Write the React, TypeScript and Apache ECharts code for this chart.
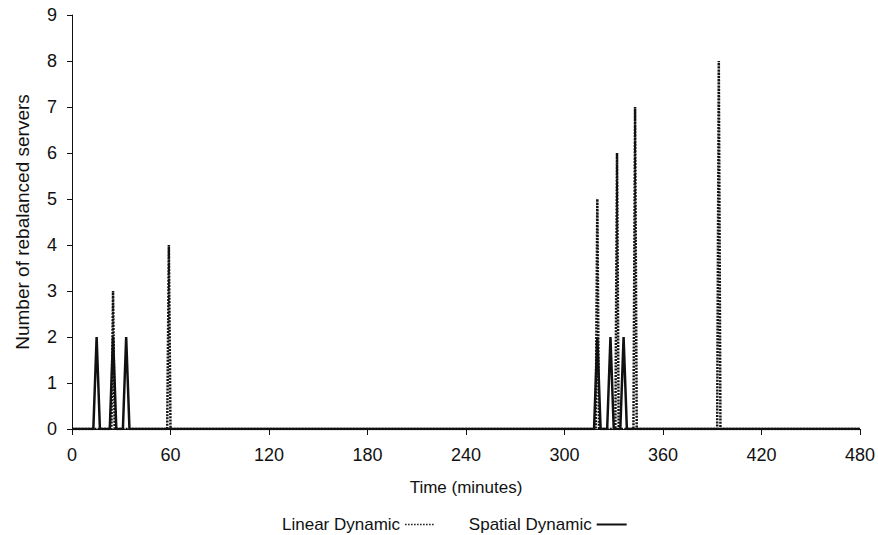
import React, { useEffect, useRef } from "react";
import * as echarts from "echarts";

// Spike events (time in minutes, number of rebalanced servers)
const linearTimes = [25, 59, 320, 332, 343, 394];
const linearValues = [3, 4, 5, 6, 7, 8];
const spatialTimes = [15, 25, 33, 320, 328, 336];
const spatialValues = [2, 2, 2, 2, 2, 2];
const xTicks = [0, 60, 120, 180, 240, 300, 360, 420, 480];
const yTicks = [0, 1, 2, 3, 4, 5, 6, 7, 8, 9];

function buildSeries(times: number[], values: number[], half: number) {
  const pts: number[][] = [[xTicks[0], 0]];
  times.forEach((t, i) => {
    pts.push([t - half, 0]);
    pts.push([t, values[i]]);
    pts.push([t + half, 0]);
  });
  pts.push([xTicks[xTicks.length - 1], 0]);
  return pts;
}

export default function App() {
  const ref = useRef<HTMLDivElement>(null);
  useEffect(() => {
    if (!ref.current) return;
    const chart = echarts.init(ref.current, null, { renderer: "svg" });
    const font = "Liberation Sans, Arial, sans-serif";
    chart.setOption({
      animation: false,
      backgroundColor: "#fff",
      grid: { left: 72, right: 12, top: 15, bottom: 106 },
      xAxis: {
        type: "value",
        min: xTicks[0],
        max: xTicks[xTicks.length - 1],
        interval: 60,
        name: "Time (minutes)",
        nameLocation: "middle",
        nameGap: 50,
        nameTextStyle: { fontFamily: font, fontSize: 17, color: "#111" },
        axisLine: { lineStyle: { color: "#111", width: 1 } },
        axisTick: { show: true, length: 6, lineStyle: { color: "#111" } },
        axisLabel: { fontFamily: font, fontSize: 18, color: "#111", margin: 17 },
        splitLine: { show: false },
      },
      yAxis: {
        type: "value",
        min: yTicks[0],
        max: yTicks[yTicks.length - 1],
        interval: 1,
        name: "Number of rebalanced servers",
        nameLocation: "middle",
        nameGap: 40,
        nameTextStyle: { fontFamily: font, fontSize: 19, color: "#111" },
        axisLine: { show: true, lineStyle: { color: "#111", width: 1 } },
        axisTick: { show: true, length: 5, lineStyle: { color: "#111" } },
        axisLabel: { fontFamily: font, fontSize: 18, color: "#111", margin: 15 },
        splitLine: { show: false },
      },
      legend: {
        top: 511,
        left: 277,
        align: "right",
        itemWidth: 30,
        itemHeight: 10,
        itemGap: 33,
        itemStyle: { opacity: 0 },
        textStyle: { fontFamily: font, fontSize: 17, color: "#111" },
        data: [
          { name: "Linear Dynamic", lineStyle: { width: 1.5, type: [1.5, 1.5] } },
          { name: "Spatial Dynamic", lineStyle: { width: 2 } },
        ],
      },
      series: [
        {
          name: "Linear Dynamic",
          type: "line",
          symbol: "none",
          data: buildSeries(linearTimes, linearValues, 1),
          lineStyle: { color: "#111", width: 2.5, type: [2, 1.2] },
          itemStyle: { color: "#111" },
        },
        {
          name: "Spatial Dynamic",
          type: "line",
          symbol: "none",
          data: buildSeries(spatialTimes, spatialValues, 2),
          lineStyle: { color: "#111", width: 2.5 },
          itemStyle: { color: "#111" },
        },
      ],
    });
    return () => chart.dispose();
  }, []);
  return (
    <div
      ref={ref}
      style={{ position: "absolute", left: 0, top: 0, width: 878, height: 535 }}
    />
  );
}
